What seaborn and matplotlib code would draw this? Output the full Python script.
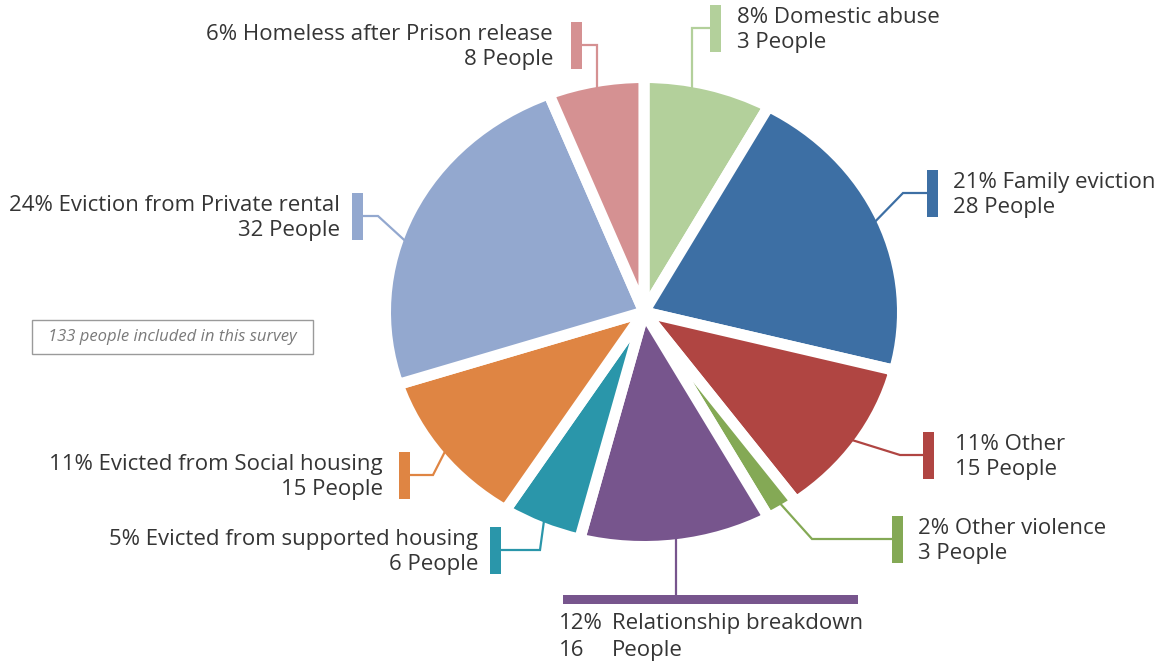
import matplotlib
matplotlib.use("Agg")
import matplotlib.pyplot as plt
from matplotlib.patches import Rectangle
import seaborn as sns
import numpy as np

# ---------------- data ----------------
categories = ["Domestic abuse", "Family eviction", "Other", "Other violence",
              "Relationship breakdown", "Evicted from supported housing",
              "Evicted from Social housing", "Eviction from Private rental",
              "Homeless after Prison release"]
percents = [8, 21, 11, 2, 12, 5, 11, 24, 6]
people = [3, 28, 15, 3, 16, 6, 15, 32, 8]
survey_note = "133 people included in this survey"

colors = ["#b3d09b", "#3d6fa4", "#b04542", "#84a955", "#77558d",
          "#2a96aa", "#df8543", "#93a8cf", "#d59192"]

# ---------------- style ----------------
sns.set_theme(style="white")
plt.rcParams['font.family'] = ['Open Sans', 'DejaVu Sans']
TXT = "#353535"
FS = 16
LS = 1.27

W, H = 1162, 661
CX, CY = 644, 312          # pie centre (px)
RX, RY = 253, 229          # visible radii (px) - pie is drawn slightly squashed
EDGE = 8.0                 # white gap (pt)
pad = EDGE / 2 * 100 / 72

fig = plt.figure(figsize=(W / 100, H / 100), dpi=100)
fig.patch.set_facecolor("white")

gx, gy = RX + pad, RY + pad
pax = fig.add_axes([(CX - gx) / W, (H - CY - gy) / H, 2 * gx / W, 2 * gy / H])
wedges, _ = pax.pie(percents, colors=colors, startangle=90, counterclock=False,
                    radius=1,
                    wedgeprops=dict(edgecolor="white", linewidth=EDGE,
                                    joinstyle="round"),
                    frame=False)
pax.set_aspect("auto")
pax.set_xlim(-1, 1)
pax.set_ylim(-1, 1)
pax.axis("off")

ax = fig.add_axes([0, 0, 1, 1], zorder=5)
ax.patch.set_alpha(0)
ax.set_xlim(0, W)
ax.set_ylim(H, 0)
ax.axis("off")

# ---------------- label layout ----------------
# (side, bar_x_left, bar_center_y, elbow_x or "vertical", text_x, attach fraction)
BAR_W, BAR_H = 11, 47
layout = [
    ("right", 710, 28, "vertical", 737, 0.38),
    ("right", 927, 193, 903, 953, 0.5),
    ("right", 923, 455, 900, 955, 0.5),
    ("right", 892, 539, 812, 918, 0.45),
    ("bottom", None, None, None, None, 0.5),
    ("left", 490, 550, 540, 478, 0.5),
    ("left", 399, 475, 433, 383, 0.5),
    ("left", 352, 216, 378, 340, 0.42),
    ("left", 571, 45, "vertical", 553, 0.5),
]


def rim_point(w, t):
    th = np.radians(w.theta2 - t * (w.theta2 - w.theta1))
    return CX + (RX - 1) * np.cos(th), CY - (RY - 1) * np.sin(th)


for i, (w, lay) in enumerate(zip(wedges, layout)):
    side, bx, by, ex, tx, t = lay
    col = colors[i]
    sx, sy = rim_point(w, t)
    if side == "bottom":
        bar_y = 595
        ax.plot([sx, sx], [sy, bar_y], color=col, lw=1.6, solid_capstyle="butt")
        ax.add_patch(Rectangle((563, bar_y), 295, 9, color=col, lw=0))
        ax.text(559, 637, f"{percents[i]}%\n{people[i]}", ha="left", va="center",
                fontsize=FS, color=TXT, linespacing=1.4)
        ax.text(612, 637, f"{categories[i]}\nPeople", ha="left", va="center",
                fontsize=FS, color=TXT, linespacing=1.4)
        continue
    bar_edge = bx if side == "right" else bx + BAR_W
    if ex == "vertical":
        xs, ys = [sx, sx, bar_edge], [sy, by, by]
    else:
        xs, ys = [sx, ex, bar_edge], [sy, by, by]
    ax.plot(xs, ys, color=col, lw=1.6, solid_joinstyle="miter")
    ax.add_patch(Rectangle((bx, by - BAR_H / 2), BAR_W, BAR_H, color=col, lw=0))
    ax.text(tx, by + 2, f"{percents[i]}% {categories[i]}\n{people[i]} People",
            ha="left" if side == "right" else "right",
            multialignment="left" if side == "right" else "right",
            va="center", fontsize=FS, color=TXT, linespacing=LS)

# ---------------- survey note ----------------
ax.add_patch(Rectangle((32, 320), 281, 34, fill=False, edgecolor="#9a9a9a", lw=1))
ax.text(172.5, 337, survey_note, ha="center", va="center", fontsize=12,
        style="italic", color="#7a7a7a")

fig.savefig("out.png", dpi=100, facecolor="white")
